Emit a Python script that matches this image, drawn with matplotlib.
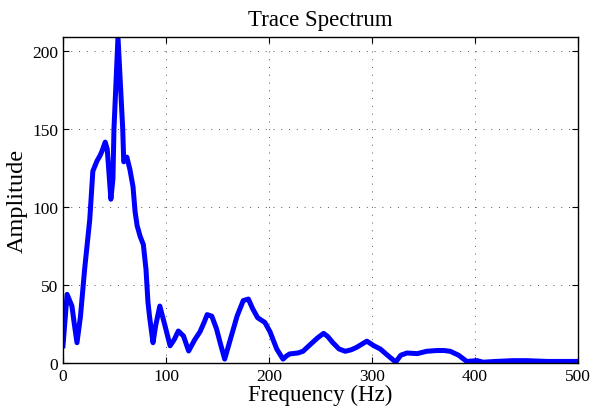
import matplotlib
matplotlib.use("Agg")
import matplotlib.pyplot as plt
import numpy as np

# spectrum
freq = [0, 4, 8.7, 11, 13.6, 17, 21, 26, 29, 33, 36, 38, 41, 43, 46.5, 48.5, 49.5,
        53.4, 58, 59, 62, 65, 68, 70, 72, 75, 78, 80.6, 82.5, 84, 87.4, 90, 94,
        99, 104, 108, 112, 117, 122, 128, 133, 137, 140, 144.5, 149, 153, 157,
        162, 169, 175, 180, 184, 189, 196, 201, 207.5, 213.6, 217, 220, 228, 233,
        242, 247, 253, 257, 262, 268, 274, 280, 285, 290, 295, 302, 308, 315, 323,
        328, 334, 344, 353, 363, 370, 376, 384, 392, 402, 408, 420, 437, 450, 470,
        485, 500]
amp = [11, 44, 36.5, 25, 13, 30, 60, 92, 123, 129.5, 133, 136, 141.6, 137, 105,
       118, 150, 209, 150, 129, 132, 124, 113, 97, 88, 81, 76, 60, 39, 30, 13,
       24, 36.5, 24, 11, 15, 20.5, 17.3, 7.7, 15, 20, 26, 31, 30, 22, 12, 2.5,
       14, 30, 40, 41, 35, 29, 26, 20, 9, 2.5, 4.5, 5.8, 6.4, 7.5, 13, 16, 19,
       17, 13, 9, 7.5, 8.5, 10, 12, 14, 11, 9, 5, 0.6, 5, 6.4, 6, 7.5, 8, 8, 7.5,
       5, 1, 1.5, 0.5, 1, 1.5, 1.5, 1, 1, 1]

plt.rcParams["font.family"] = ["Liberation Serif", "DejaVu Serif"]

fig = plt.figure(figsize=(5.93, 4.14), dpi=100)
ax = fig.add_axes([0.1062, 0.1208, 0.8685, 0.7874])

ax.plot(freq, amp, color="#0000ff", linewidth=3.6, solid_joinstyle="round")

ax.set_xlim(0, 500)
ax.set_ylim(0, max(amp))
ax.set_xticks([0, 100, 200, 300, 400, 500])
ax.set_yticks([0, 50, 100, 150, 200])
ax.grid(True, linestyle=(0, (1, 7)), color="#555555", linewidth=0.7)
ax.tick_params(direction="in", top=True, right=True, labelsize=12.5, length=4)
for s in ax.spines.values():
    s.set_linewidth(1.0)

ax.set_title("Trace Spectrum", fontsize=16.5, pad=8.5)
ax.set_xlabel("Frequency (Hz)", fontsize=16.5, labelpad=0)
ax.set_ylabel("Amplitude", fontsize=17.5, labelpad=3)

fig.savefig("out.png", dpi=100)
